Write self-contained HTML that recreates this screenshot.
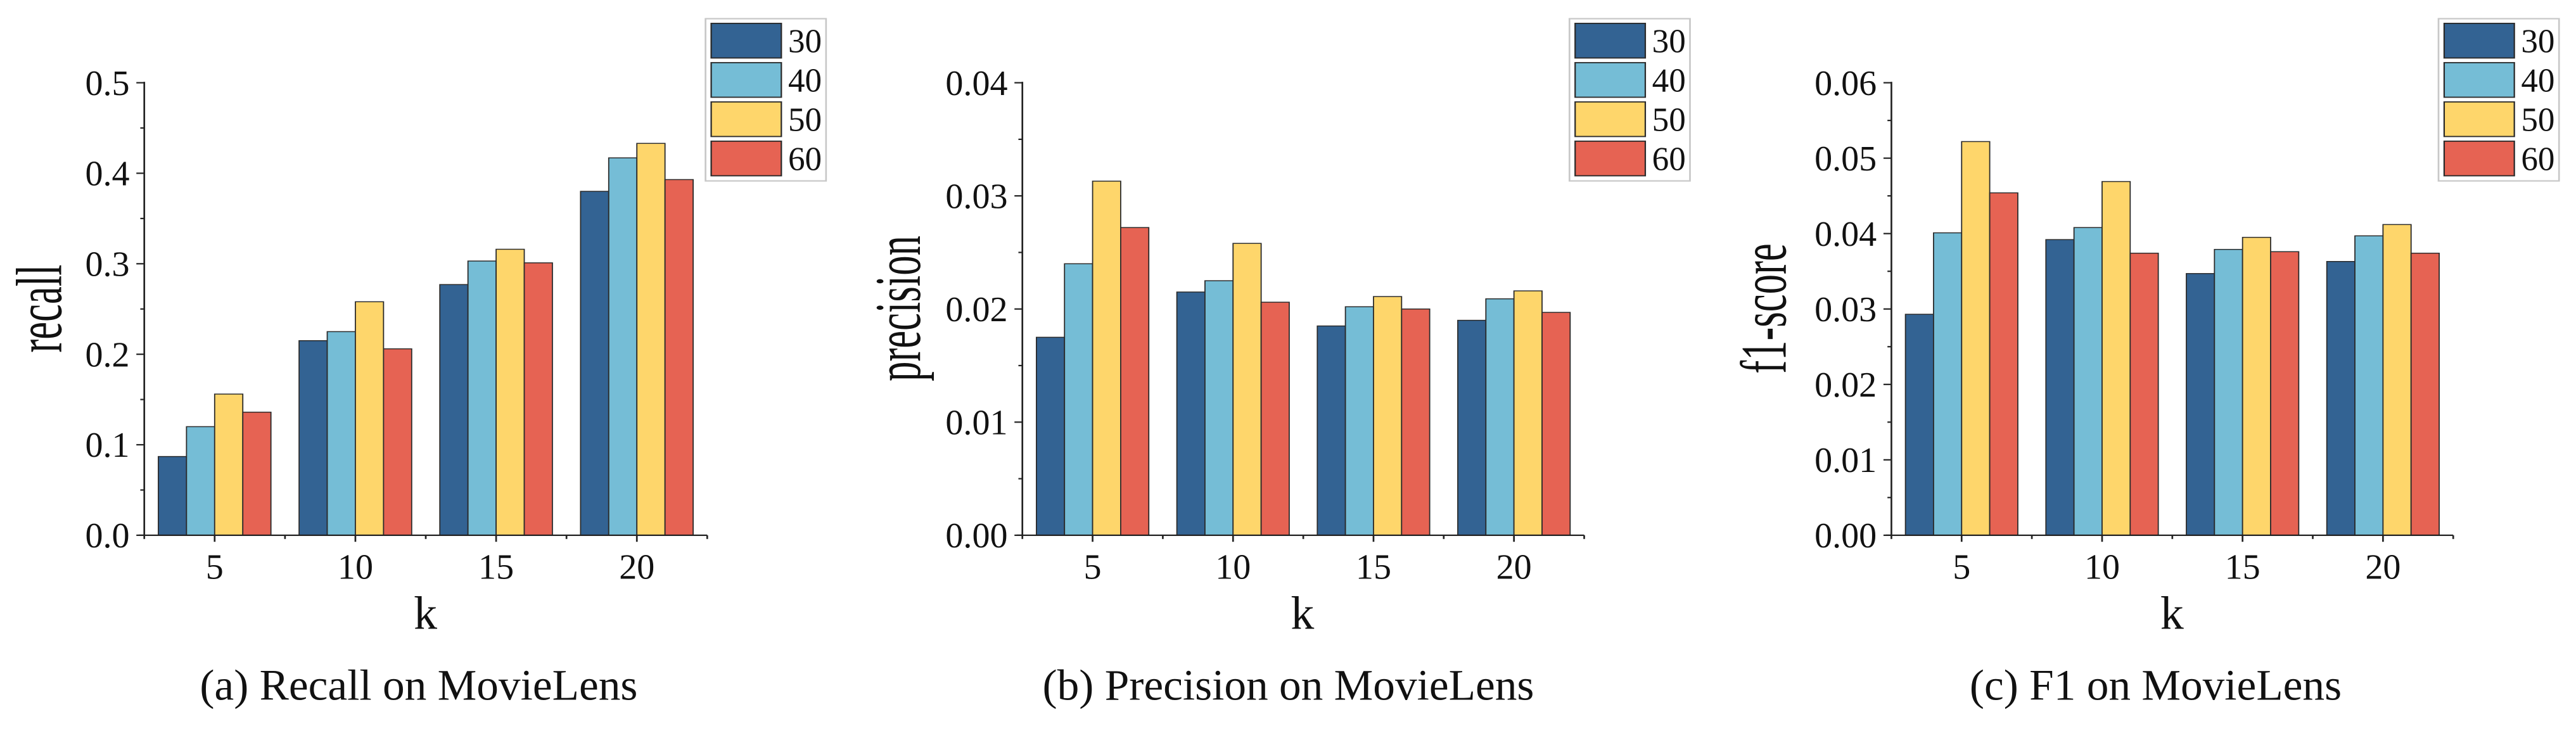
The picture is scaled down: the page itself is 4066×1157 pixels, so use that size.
<!DOCTYPE html>
<html><head><meta charset="utf-8"><style>
html,body{margin:0;padding:0;background:#fff;}
svg{display:block;}
text{font-family:"Liberation Serif",serif;fill:#111;}
</style></head><body>
<svg id="fig" width="4066" height="1157" viewBox="0 0 4553 1568" preserveAspectRatio="none" xmlns="http://www.w3.org/2000/svg"></svg>
<script>
const categories = ["5","10","15","20"];
const seriesNames = ["30","40","50","60"];
const colors = ["#336393","#75BDD6","#FED66B","#E66353"];
const recall30 = [0.087,0.215,0.277,0.380];
const recall40 = [0.120,0.225,0.303,0.417];
const recall50 = [0.156,0.258,0.316,0.433];
const recall60 = [0.136,0.206,0.301,0.393];
const prec30 = [0.0175,0.0215,0.0185,0.0190];
const prec40 = [0.0240,0.0225,0.0202,0.0209];
const prec50 = [0.0313,0.0258,0.0211,0.0216];
const prec60 = [0.0272,0.0206,0.0200,0.0197];
const f130 = [0.0293,0.0392,0.0347,0.0363];
const f140 = [0.0401,0.0408,0.0379,0.0397];
const f150 = [0.0522,0.0469,0.0395,0.0412];
const f160 = [0.0454,0.0374,0.0376,0.0374];
const recallTicks = ["0.0","0.1","0.2","0.3","0.4","0.5"];
const precTicks = ["0.00","0.01","0.02","0.03","0.04"];
const f1Ticks = ["0.00","0.01","0.02","0.03","0.04","0.05","0.06"];

const NS="http://www.w3.org/2000/svg";
const svg=document.getElementById('fig');
const SX=0.826;
function mk(tag,attrs,parent){const e=document.createElementNS(NS,tag);for(const k in attrs)e.setAttribute(k,attrs[k]);(parent||svg).appendChild(e);return e;}
function txt(x,y,str,size,anchor,parent){
  const t=mk('text',{x:0,y:0,'text-anchor':anchor,'font-size':size,transform:'translate('+x+','+y+') scale('+SX+',1)'},parent);
  t.textContent=str;
  return t;
}

function drawChart(id,x0,x1,yTop,yMax,ticks,tickStep,series,yTitle,yTitleX,legendX,caption,capX,kX){
  const y0=1145;
  const g=mk('g',{});
  
  
  const ys=v=>y0-(v/yMax)*(y0-yTop);
  const gw=(x1-x0)/categories.length;
  const xs=i=>x0+gw*(i+0.5);
  const bw=gw*0.2;
  series.forEach((arr,s)=>{
    arr.forEach((v,i)=>{
      const bx=xs(i)-2*bw+s*bw;
      const r=mk('rect',{x:bx,y:ys(v),width:bw,height:y0-ys(v),fill:colors[s],stroke:'#2a2a2a','stroke-width':2},g);
      
      
    });
  });
  const ya=mk('line',{x1:x0,y1:yTop-2,x2:x0,y2:y0+1,stroke:'#222','stroke-width':3},g);
  
  
  const xa=mk('line',{x1:x0-10,y1:y0,x2:x1,y2:y0,stroke:'#222','stroke-width':3},g);
  
  
  ticks.forEach((t,i)=>{
    const y=ys(i*tickStep);
    mk('line',{x1:x0-14,y1:y,x2:x0,y2:y,stroke:'#222','stroke-width':3},g);
    if(i<ticks.length-1){const ym=ys((i+0.5)*tickStep);mk('line',{x1:x0-7,y1:ym,x2:x0,y2:ym,stroke:'#222','stroke-width':3},g);}
    const tx=txt(x0-26,y+26,t,76,'end',g);
    
    
  });
  for(let i=0;i<=categories.length;i++){
    const x=x0+gw*i;
    mk('line',{x1:x,y1:y0,x2:x,y2:y0+8,stroke:'#222','stroke-width':3},g);
  }
  categories.forEach((c,i)=>{
    mk('line',{x1:xs(i),y1:y0,x2:xs(i),y2:y0+14,stroke:'#222','stroke-width':3},g);
    const tx=txt(xs(i),1238,c,76,'middle',g);
    
    
  });
  const kt=txt(kX,1345,'k',100,'middle',g);
  
  
  const yt=mk('text',{x:0,y:0,'text-anchor':'middle','font-size':100,transform:'translate('+yTitleX+',660) rotate(-90) scale(0.85,1.15)'},g);
  yt.textContent=yTitle;
  
  
  const ct=txt(capX,1497,caption,94,'middle',g);
  ct.setAttribute('xml:space','preserve');
  
  
  const lg=mk('g',{},g);
  
  
  mk('rect',{x:legendX,y:40,width:213,height:347,fill:'#fff',stroke:'#c8c8c8','stroke-width':3},lg);
  seriesNames.forEach((n,s)=>{
    const ry=50+s*84;
    const sw=mk('rect',{x:legendX+10,y:ry,width:124,height:74,fill:colors[s],stroke:'#2a2a2a','stroke-width':2.5},lg);
    
    
    const lt=txt(legendX+146,ry+62,n,72,'start',lg);
    
    
  });
}
drawChart('recall',255,1250,177,0.5,recallTicks,0.1,[recall30,recall40,recall50,recall60],'recall',108,1247,'(a)  Recall on MovieLens',740,752);
drawChart('precision',1807,2800,177,0.04,precTicks,0.01,[prec30,prec40,prec50,prec60],'precision',1626,2774,'(b)  Precision on MovieLens',2277,2302);
drawChart('f1',3343,4336,177,0.06,f1Ticks,0.01,[f130,f140,f150,f160],'f1-score',3156,4310,'(c)  F1 on MovieLens',3810,3839);
</script>
</body></html>
